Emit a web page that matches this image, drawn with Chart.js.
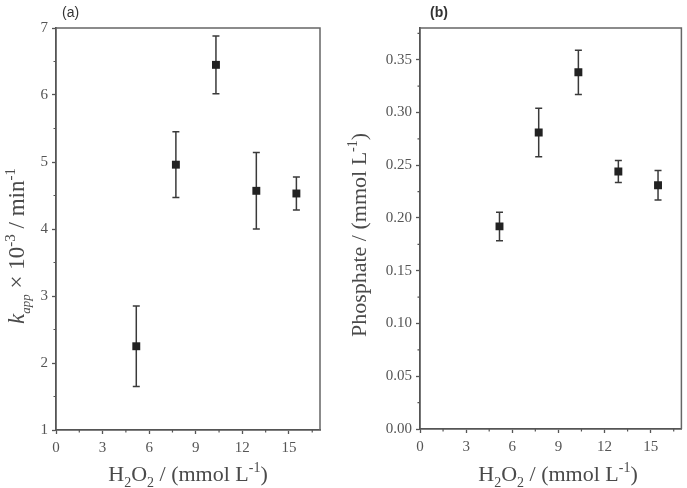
<!DOCTYPE html>
<html><head><meta charset="utf-8">
<script src="https://cdn.jsdelivr.net/npm/chart.js@4/dist/chart.umd.min.js"></script>
<style>
html,body{margin:0;padding:0;background:#fff;}
#ca{position:absolute;left:0;top:0;}
#cb{position:absolute;left:340px;top:0;}
</style></head><body>
<canvas id="ca" width="340" height="488"></canvas>
<canvas id="cb" width="347" height="488"></canvas>
<script>
// ---- data ----
const h2o2 = [5.17, 7.72, 10.3, 12.9, 15.48];
const kapp = [2.25, 4.96, 6.45, 4.57, 4.53];
const kappErr = [0.60, 0.49, 0.43, 0.57, 0.245];
const phosphate = [0.192, 0.281, 0.338, 0.244, 0.231];
const phosphateErr = [0.0135, 0.023, 0.021, 0.0105, 0.014];
const xTicks = [0, 3, 6, 9, 12, 15];
const xMinorTicks = [1.5, 4.5, 7.5, 10.5, 13.5, 16.5];
const kappTicks = [1, 2, 3, 4, 5, 6, 7];
const kappMinorTicks = [1.5, 2.5, 3.5, 4.5, 5.5, 6.5];
const phosTicks = [0, 0.05, 0.10, 0.15, 0.20, 0.25, 0.30, 0.35];
const phosMinorTicks = [0.025, 0.075, 0.125, 0.175, 0.225, 0.275, 0.325, 0.375];

const AXIS = '#555';
const TXT = '#555';
const SERIF = "'Liberation Serif', 'Times New Roman', serif";

function fontOf(s){ return (s.i ? 'italic ' : '') + s.s + 'px ' + SERIF; }
function richText(ctx, segs, x, y, rotate){
  ctx.save();
  ctx.translate(x, y);
  if (rotate) ctx.rotate(-Math.PI/2);
  ctx.fillStyle = '#4a4a4a';
  ctx.textBaseline = 'alphabetic'; ctx.textAlign = 'left';
  let w = 0;
  segs.forEach(s => { ctx.font = fontOf(s); w += ctx.measureText(s.t).width; });
  let cx = -w/2;
  segs.forEach(s => { ctx.font = fontOf(s); ctx.fillText(s.t, cx, s.dy || 0); cx += ctx.measureText(s.t).width; });
  ctx.restore();
}

const xTitleSegs = [
  {t:'H', s:22}, {t:'2', s:14, dy:6}, {t:'O', s:22}, {t:'2', s:14, dy:6},
  {t:' / (mmol L', s:22}, {t:'-1', s:14, dy:-9}, {t:')', s:22}
];

function makePlugin(cfg){
  return {
    id: 'extras',
    beforeDatasetsDraw(chart){
      const ctx = chart.ctx, xs = chart.scales.x, ys = chart.scales.y;
      ctx.save();
      ctx.strokeStyle = '#3a3a3a'; ctx.lineWidth = 1.5;
      cfg.ys.forEach((v, i) => {
        const px = xs.getPixelForValue(h2o2[i]);
        const y1 = ys.getPixelForValue(v - cfg.err[i]);
        const y2 = ys.getPixelForValue(v + cfg.err[i]);
        ctx.beginPath();
        ctx.moveTo(px, y1); ctx.lineTo(px, y2);
        ctx.moveTo(px - 3.5, y1); ctx.lineTo(px + 3.5, y1);
        ctx.moveTo(px - 3.5, y2); ctx.lineTo(px + 3.5, y2);
        ctx.stroke();
      });
      ctx.restore();
    },
    afterDraw(chart){
      const ctx = chart.ctx, a = chart.chartArea, xs = chart.scales.x, ys = chart.scales.y;
      ctx.save();
      ctx.strokeStyle = '#666'; ctx.lineWidth = 1.5;
      ctx.beginPath();
      ctx.moveTo(a.left, a.top); ctx.lineTo(a.right, a.top); ctx.lineTo(a.right, a.bottom);
      ctx.stroke();
      ctx.strokeStyle = AXIS; ctx.lineWidth = 1.2;
      ctx.beginPath();
      xMinorTicks.forEach(v => { const p = xs.getPixelForValue(v); ctx.moveTo(p, a.bottom); ctx.lineTo(p, a.bottom + 2.5); });
      cfg.minor.forEach(v => { const p = ys.getPixelForValue(v); ctx.moveTo(a.left, p); ctx.lineTo(a.left - 2.5, p); });
      ctx.stroke();
      richText(ctx, xTitleSegs, cfg.xTitleX, 481, false);
      richText(ctx, cfg.yTitle, cfg.yTitleX, cfg.yTitleY, true);
      ctx.fillStyle = '#333';
      ctx.font = cfg.panelFont;
      ctx.textBaseline = 'alphabetic'; ctx.textAlign = 'left';
      ctx.fillText(cfg.panel, cfg.panelX, 17);
      ctx.restore();
    }
  };
}

function makeChart(id, cfg){
  return new Chart(document.getElementById(id), {
    type: 'scatter',
    data: { datasets: [{
      data: h2o2.map((x, i) => ({x, y: cfg.ys[i]})),
      pointStyle: 'rect', pointRadius: 5.6, pointHoverRadius: 5.6,
      backgroundColor: '#222', borderWidth: 0, showLine: false
    }]},
    options: {
      responsive: false, animation: false,
      layout: { padding: { left: 0, top: 28, right: cfg.padRight, bottom: 0 } },
      plugins: { legend: { display: false }, tooltip: { enabled: false } },
      scales: {
        x: {
          type: 'linear', min: 0, max: 17,
          afterFit(s){ s.height = cfg.xHeight; },
          afterBuildTicks(s){ s.ticks = xTicks.map(v => ({value: v})); },
          ticks: { color: TXT, font: { family: SERIF, size: 15 }, padding: 5, maxRotation: 0 },
          grid: { display: true, drawOnChartArea: false, drawTicks: true, tickLength: 4, tickColor: AXIS, tickWidth: 1.3 },
          border: { display: true, color: AXIS, width: 1.8 }
        },
        y: {
          type: 'linear', min: cfg.yMin, max: cfg.yMax,
          afterFit(s){ s.width = cfg.yWidth; },
          afterBuildTicks(s){ s.ticks = cfg.ticks.map(v => ({value: v})); },
          ticks: { color: TXT, font: { family: SERIF, size: 15 }, padding: 4, callback: cfg.fmt },
          grid: { display: true, drawOnChartArea: false, drawTicks: true, tickLength: 4, tickColor: AXIS, tickWidth: 1.3 },
          border: { display: true, color: AXIS, width: 1.8 }
        }
      }
    },
    plugins: [makePlugin(cfg)]
  });
}

makeChart('ca', {
  ys: kapp, err: kappErr, ticks: kappTicks, minor: kappMinorTicks,
  yMin: 1, yMax: 7, fmt: v => String(v),
  padRight: 20, yWidth: 56, xHeight: 58,
  xTitleX: 188,
  yTitle: [
    {t:'k', s:23, i:true}, {t:'app', s:13, i:true, dy:6},
    {t:' \u00d7 10', s:23}, {t:'-3', s:15, dy:-9},
    {t:' / min', s:23}, {t:'-1', s:15, dy:-9}
  ],
  yTitleX: 24, yTitleY: 246,
  panel: '(a)', panelX: 62, panelFont: "14px 'Liberation Sans', Arial, sans-serif"
});

makeChart('cb', {
  ys: phosphate, err: phosphateErr, ticks: phosTicks, minor: phosMinorTicks,
  yMin: 0, yMax: 0.38, fmt: v => Number(v).toFixed(2),
  padRight: 2, yWidth: 80, xHeight: 59,
  xTitleX: 218,
  yTitle: [
    {t:'Phosphate / (mmol L', s:22}, {t:'-1', s:14, dy:-9}, {t:')', s:22}
  ],
  yTitleX: 26, yTitleY: 235,
  panel: '(b)', panelX: 90, panelFont: "bold 14px 'Liberation Sans', Arial, sans-serif"
});
</script>
</body></html>
